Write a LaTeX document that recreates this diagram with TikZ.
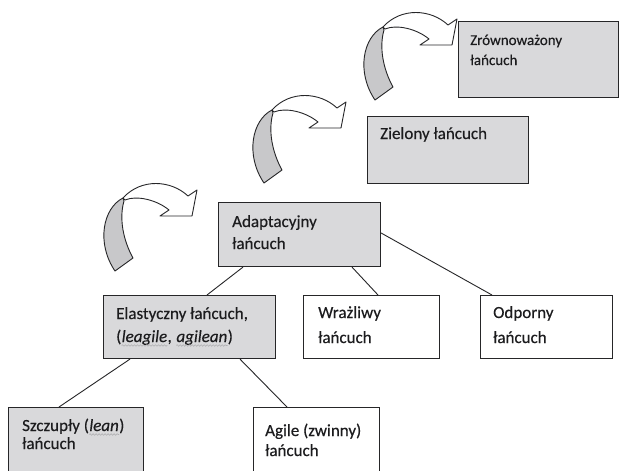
\documentclass[tikz,border=0pt]{standalone}
\usepackage{fontspec}
\setmainfont{Carlito}[FakeBold=0.35]
\usetikzlibrary{decorations.pathmorphing}
\definecolor{boxgray}{RGB}{217,217,219}
\definecolor{arrgray}{RGB}{200,200,202}
\definecolor{ink}{RGB}{38,38,40}
\definecolor{textink}{RGB}{28,28,30}
\definecolor{wavegray}{RGB}{175,175,178}
\tikzset{
  box/.style={draw=ink, line width=1.1pt, inner sep=0pt, anchor=north west, rectangle},
  graybox/.style={box, fill=boxgray},
  whitebox/.style={box, fill=white},
  txt/.style={inner sep=0pt, anchor=base west, text=textink, font=\fontsize{17}{22}\selectfont},
  smalltxt/.style={txt, font=\fontsize{15}{20}\selectfont},
  conn/.style={draw=ink, line width=0.9pt},
  squig/.style={draw=wavegray, line width=0.6pt, decorate, decoration={snake, segment length=3pt, amplitude=0.8pt}},
  curvarrow/.pic={
    \draw[draw=ink, line width=0.9pt, fill=arrgray, line join=round]
      (0,0) .. controls (-20,10) and (-27,45) .. (-8,73)
      -- (10,60) .. controls (0,42) and (-4,20) .. (1,3) -- cycle;
    \draw[draw=ink, line width=0.9pt, fill=white, line join=round]
      (0,0) .. controls (18,-20) and (48,-18) .. (65,-2)
      -- (74,-8) -- (69,18) -- (37,18) -- (46,12)
      .. controls (34,2) and (14,-3) .. (2,2) -- cycle;
  }
}
\begin{document}
\begin{tikzpicture}[x=1pt,y=-1pt]
\useasboundingbox (0,0) rectangle (619,471);
\fill[white] (0,0) rectangle (619,471);

% curved arrows
\pic at (123,198) {curvarrow};
\pic at (272,110) {curvarrow};
\pic at (383,27) {curvarrow};

% boxes
\node[graybox, minimum width=160pt, minimum height=76pt] (zr) at (458,21) {};
\node[graybox, minimum width=161pt, minimum height=67pt] (zi) at (367,116) {};
\node[graybox, minimum width=162pt, minimum height=64pt] (ad) at (218,202) {};
\node[graybox, minimum width=172pt, minimum height=63pt] (el) at (103,295) {};
\node[whitebox, minimum width=136pt, minimum height=63pt] (wr) at (303,295) {};
\node[whitebox, minimum width=132pt, minimum height=63pt] (od) at (480,295) {};
\node[graybox, minimum width=135pt, minimum height=75pt] (sz) at (8,407) {};
\node[whitebox, minimum width=126pt, minimum height=75pt] (ag) at (253,407) {};

% texts
\node[smalltxt] (zrA) at (470,45) {Zrównoważony};
\node[smalltxt] (zrB) at (470,65) {łańcuch};
\node[txt] (ziA) at (380,139) {Zielony łańcuch};
\node[txt] (adA) at (232,227) {Adaptacyjny};
\node[txt] (adB) at (232,249) {łańcuch};
\node[txt] (elA) at (116,319) {Elastyczny łańcuch,};
\node[txt] (elB1) at (116,342) {(};
\node[txt] (elB2) at (elB1.base east) {\itshape leagile};
\node[txt] (elB3) at (elB2.base east) {,\hspace*{0.25em}};
\node[txt] (elB4) at (elB3.base east) {\itshape agilean};
\node[txt] (elB5) at (elB4.base east) {)};
\node[txt] (wrA) at (318,318) {Wrażliwy};
\node[txt] (wrB) at (318,343) {łańcuch};
\node[txt] (odA) at (493,318) {Odporny};
\node[txt] (odB) at (493,343) {łańcuch};
\node[txt] (szA1) at (22,431) {Szczupły (};
\node[txt] (szA2) at (szA1.base east) {\itshape lean};
\node[txt] (szA3) at (szA2.base east) {)};
\node[txt] (szB) at (22,449) {łańcuch};
\node[txt] (agA) at (265,436) {Agile (zwinny)};
\node[txt] (agB) at (265,456) {łańcuch};

% spelling squiggles
\draw[squig] ([yshift=-3.5pt]elB2.base west) -- ([yshift=-3.5pt]elB2.base east);
\draw[squig] ([yshift=-3.5pt]elB4.base west) -- ([yshift=-3.5pt]elB4.base east);
\draw[squig] ([yshift=-3.5pt]szA2.base west) -- ([yshift=-3.5pt]szA2.base east);

% connectors
\draw[conn] ([xshift=25pt]ad.south west) -- ([xshift=104pt]el.north west);
\draw[conn] ([xshift=134pt]ad.south west) -- ([xshift=75pt]wr.north west);
\draw[conn] ([yshift=-31pt]ad.north east) -- ([xshift=12pt]od.north west);
\draw[conn] ([xshift=27pt]el.south west) -- ([xshift=51pt]sz.north west);
\draw[conn] ([xshift=137pt]el.south west) -- ([xshift=34pt]ag.north west);
\end{tikzpicture}
\end{document}
